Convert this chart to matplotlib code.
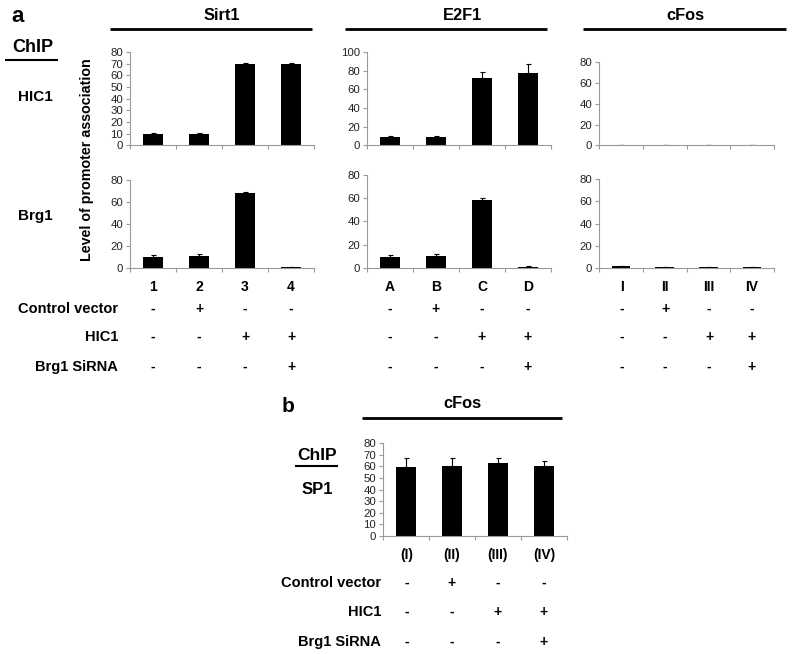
import matplotlib
matplotlib.use('Agg')
from matplotlib import pyplot as plt
import numpy as np

plt.rcParams['font.family'] = ['Liberation Sans', 'DejaVu Sans']

# data
lanes_sirt1 = ['1', '2', '3', '4']
lanes_e2f1 = ['A', 'B', 'C', 'D']
lanes_cfos = ['I', 'II', 'III', 'IV']
lanes_b = ['(I)', '(II)', '(III)', '(IV)']

control_vector = ['-', '+', '-', '-']
hic1_signs = ['-', '-', '+', '+']
brg1_sirna = ['-', '-', '-', '+']

sirt1_hic1 = [10, 10, 69.5, 69.5]
sirt1_hic1_err = [1, 1, 1, 1.5]
e2f1_hic1 = [9.5, 9.5, 72, 77.5]
e2f1_hic1_err = [1, 1, 6.5, 10]
cfos_hic1 = [0, 0, 0, 0.3]
cfos_hic1_err = [0, 0, 0, 0.3]

sirt1_brg1 = [10, 10.5, 68.5, 0.5]
sirt1_brg1_err = [1.5, 2, 1, 0.2]
e2f1_brg1 = [9.5, 10, 58.5, 1]
e2f1_brg1_err = [1.5, 2, 1.5, 0.5]
cfos_brg1 = [1.5, 0.8, 0.8, 1]
cfos_brg1_err = [0.3, 0.2, 0.2, 0.3]

sp1_cfos = [59.5, 60, 63, 60]
sp1_cfos_err = [8, 7.5, 4, 4.5]

W, H = 792, 654
fig = plt.figure(figsize=(W / 100, H / 100), dpi=100)

# overlay in pixel coordinates for labels and lines
ov = fig.add_axes([0, 0, 1, 1])
ov.set_xlim(0, W)
ov.set_ylim(H, 0)
ov.axis('off')

GREY = '#9a9a9a'


def bar_panel(x0, x1, ytop, ybot, vals, errs, ymax, step):
    ax = fig.add_axes([x0 / W, 1 - ybot / H, (x1 - x0) / W, (ybot - ytop) / H])
    x = np.arange(len(vals))
    ax.bar(x, vals, width=0.42, color='black',
           yerr=[np.zeros(len(errs)), errs],
           error_kw=dict(ecolor='black', elinewidth=0.8, capsize=1.8, capthick=0.8))
    ax.set_xlim(-0.5, len(vals) - 0.5)
    ax.set_ylim(0, ymax)
    ax.set_yticks(np.arange(0, ymax + 1, step))
    ax.set_xticks(np.arange(-0.5, len(vals), 1.0))
    ax.set_xticklabels([])
    for s in ['top', 'right']:
        ax.spines[s].set_visible(False)
    for s in ['left', 'bottom']:
        ax.spines[s].set_color(GREY)
        ax.spines[s].set_linewidth(0.8)
    ax.tick_params(axis='both', colors=GREY, length=3, width=0.8,
                   labelsize=8.2, labelcolor='#222222', pad=2)
    ax.patch.set_alpha(0)
    return ax


# panel a, row HIC1
bar_panel(130, 314, 52, 145.5, sirt1_hic1, sirt1_hic1_err, 80, 10)
bar_panel(367, 551, 52, 145.5, e2f1_hic1, e2f1_hic1_err, 100, 20)
bar_panel(599, 774, 62, 145.5, cfos_hic1, cfos_hic1_err, 80, 20)
# panel a, row Brg1
bar_panel(130, 314, 180, 268, sirt1_brg1, sirt1_brg1_err, 80, 20)
bar_panel(367, 551, 174.5, 268, e2f1_brg1, e2f1_brg1_err, 80, 20)
bar_panel(599, 774, 179, 268, cfos_brg1, cfos_brg1_err, 80, 20)
# panel b
bar_panel(383, 567, 443, 536, sp1_cfos, sp1_cfos_err, 80, 10)


def txt(x, y, s, size=9, ha='center', **kw):
    ov.text(x, y, s, fontsize=size, fontweight='bold', ha=ha, va='center', **kw)


def hline(x0, x1, y, lw=2.0):
    ov.plot([x0, x1], [y, y], color='black', linewidth=lw, solid_capstyle='butt')


# panel a headers
txt(18, 16, 'a', size=16)
txt(222, 15, 'Sirt1', size=11.8)
txt(462, 15, 'E2F1', size=11.8)
txt(685, 15, 'cFos', size=11.8)
hline(110, 312, 29)
hline(345, 547, 29)
hline(583, 786, 29)

txt(33, 47, 'ChIP', size=13)
hline(5, 58, 60, lw=1.5)
txt(35, 97, 'HIC1', size=11)
txt(35, 216, 'Brg1', size=11)
ov.text(87, 160, 'Level of promoter association', fontsize=10.3, fontweight='bold',
        rotation=90, ha='center', va='center')

cols_sirt1 = [153, 199, 245, 291]
cols_e2f1 = [390, 436, 482, 528]
cols_cfos = [622, 665, 709, 752]
row_y = [309, 337, 367]
for cols, lanes in [(cols_sirt1, lanes_sirt1), (cols_e2f1, lanes_e2f1), (cols_cfos, lanes_cfos)]:
    for i, c in enumerate(cols):
        txt(c, 287, lanes[i], size=10)
        for y, signs in zip(row_y, [control_vector, hic1_signs, brg1_sirna]):
            txt(c, y, signs[i], size=10)
txt(118, row_y[0], 'Control vector', size=10.5, ha='right')
txt(118, row_y[1], 'HIC1', size=10.5, ha='right')
txt(118, row_y[2], 'Brg1 SiRNA', size=10.5, ha='right')

# panel b
txt(288, 406, 'b', size=15)
txt(462, 404, 'cFos', size=11.8)
hline(362, 562, 418)
txt(317, 455, 'ChIP', size=12.5)
hline(295, 338, 466, lw=1.5)
txt(317, 490, 'SP1', size=12)

cols_b = [407, 452, 498, 544]
row_yb = [583, 612, 642]
for i, c in enumerate(cols_b):
    txt(c, 555, lanes_b[i], size=10)
    for y, signs in zip(row_yb, [control_vector, hic1_signs, brg1_sirna]):
        txt(c, y, signs[i], size=10)
txt(381, row_yb[0], 'Control vector', size=10.5, ha='right')
txt(381, row_yb[1], 'HIC1', size=10.5, ha='right')
txt(381, row_yb[2], 'Brg1 SiRNA', size=10.5, ha='right')

fig.savefig('out.png', dpi=100)
